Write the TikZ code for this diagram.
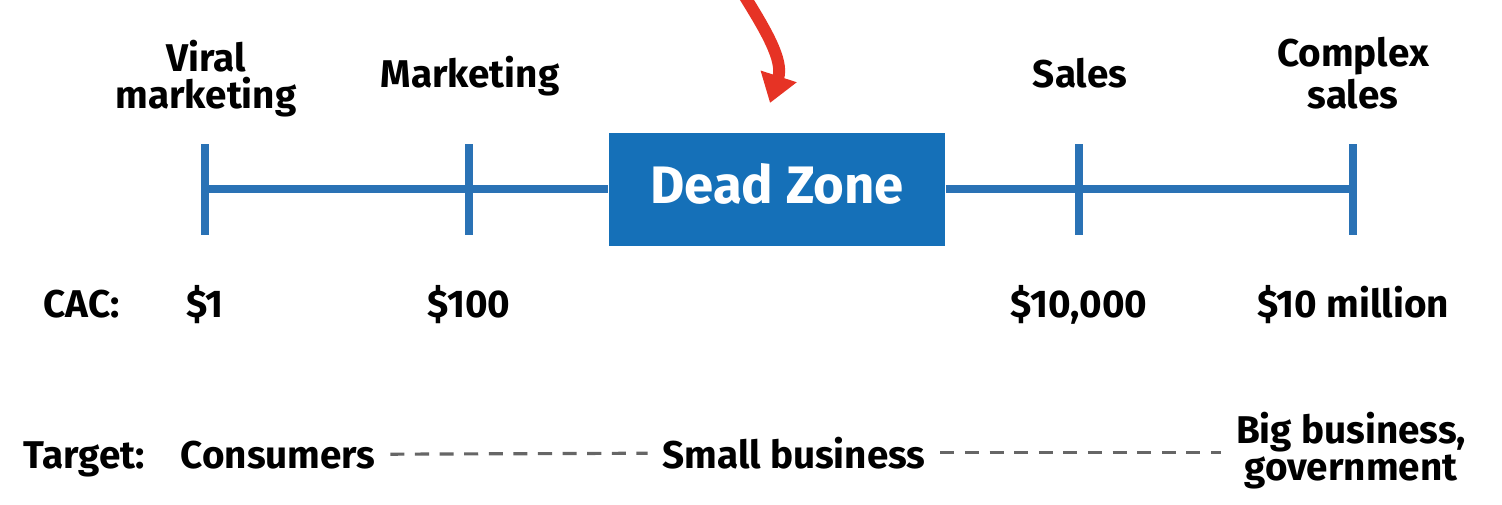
\documentclass[tikz,border=0pt]{standalone}
\usepackage{fontspec}
\setmainfont{Fira Sans}
\usepackage{xcolor}
\usepackage{tikz}
\usetikzlibrary{arrows.meta, calc}
\definecolor{zoneblue}{HTML}{1570B8}
\definecolor{lineblue}{HTML}{2A72B5}
\definecolor{arrowred}{HTML}{E63325}
\tikzset{
    lbl/.style={font=\fontsize{11}{10.5}\selectfont\bfseries, inner sep=4pt, align=center},
    zone/.style={fill=zoneblue, text=white, minimum width=3.36cm, minimum height=1.13cm, text depth=0.12cm, font=\fontsize{15}{18}\selectfont\bfseries},
    axis/.style={draw=lineblue, line width=2.2pt},
    dashline/.style={draw=gray!80!black, line width=0.9pt, dash pattern=on 4pt off 3pt},
    pointer/.style={draw=arrowred, line width=3.4pt, -{Triangle[width=0.36cm, length=0.28cm]}}
}

\begin{document}
\begin{tikzpicture}
        \useasboundingbox (0,0) rectangle (15.02,5.04);
        \coordinate (t1) at (2.05,3.15);
        \coordinate (t2) at (4.69,3.15);
        \coordinate (t3) at (10.79,3.15);
        \coordinate (t4) at (13.53,3.15);
        \node[zone] (dz) at (7.77,3.15) {Dead Zone};

        \draw[axis] (t1) -- (t2) -- (dz) -- (t3) -- (t4);
        \draw[axis] ($(t1)+(0,0.45)$) -- ($(t1)+(0,-0.46)$);
        \draw[axis] ($(t2)+(0,0.45)$) -- ($(t2)+(0,-0.46)$);
        \draw[axis] ($(t3)+(0,0.45)$) -- ($(t3)+(0,-0.46)$);
        \draw[axis] ($(t4)+(0,0.45)$) -- ($(t4)+(0,-0.46)$);

        \node[lbl, anchor=base] (viral) at (2.06,3.96) {Viral\\marketing};
        \node[lbl, anchor=base] (mkt) at (4.70,4.17) {Marketing};
        \node[lbl, anchor=base] (sales) at (10.80,4.17) {Sales};
        \node[lbl, anchor=base] (cplx) at (13.53,3.96) {Complex\\sales};

        \node[lbl, anchor=base west] (cac) at (0.29,1.87) {CAC:};
        \node[lbl, anchor=base] (c1) at (2.05,1.87) {\$1};
        \node[lbl, anchor=base] (c2) at (4.69,1.87) {\$100};
        \node[lbl, anchor=base] (c3) at (10.79,1.87) {\$10,000};
        \node[lbl, anchor=base] (c4) at (13.53,1.87) {\$10 million};

        \node[lbl, anchor=base west] (tgt) at (0.09,0.36) {Target:};
        \node[lbl, anchor=base west] (cons) at (1.66,0.36) {Consumers};
        \node[lbl, anchor=base] (small) at (7.94,0.36) {Small business};
        \node[lbl, anchor=base] (big) at (13.51,0.24) {Big business,\\government};

        \draw[dashline] (cons) -- (small);
        \draw[dashline] (small) -- (big.west |- small);

        \coordinate (pstart) at (7.42,5.12);
        \coordinate (ptip) at (7.70,4.01);
        \draw[pointer] (pstart) to[out=-58, in=72] (ptip);
    \end{tikzpicture}
\end{document}
